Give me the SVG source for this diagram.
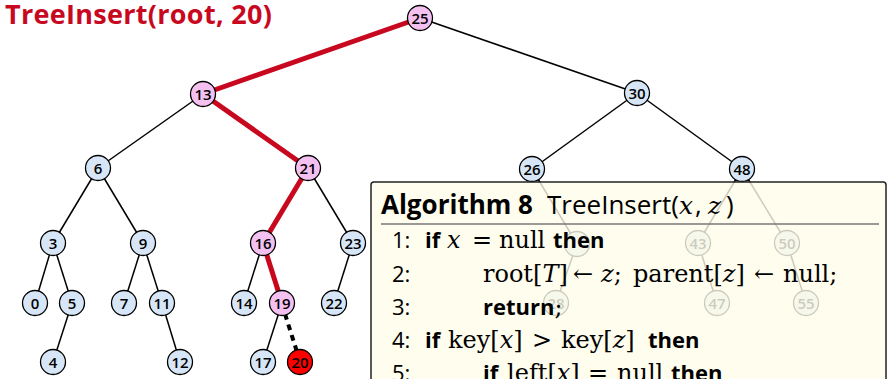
<svg xmlns="http://www.w3.org/2000/svg" width="890" height="379" viewBox="0 0 890 379">
<style>
.e{stroke:#000;stroke-width:1.5;fill:none}
.r{stroke:#c8081f;stroke-width:5;fill:none}
.d{stroke:#000;stroke-width:4;stroke-dasharray:6 5;fill:none}
.n circle{stroke:#000;stroke-width:1.3}
.b circle{fill:#d6e6f6}
.p circle{fill:#f4c0f0}
.x circle{fill:#ff0000}
.n text{font-family:"Open Sans",sans-serif;font-weight:600;font-size:15px;text-anchor:middle;fill:#000}
.t{font-family:"Open Sans",sans-serif;font-weight:700;font-size:27px;letter-spacing:0.3px;fill:#c8081f}
.a{font-family:"Open Sans",sans-serif;font-size:22px;fill:#000}
.h{font-family:"Open Sans",sans-serif;font-size:26px;fill:#000}
.k{font-weight:700}
.s{font-family:"DejaVu Serif",serif;font-size:24px}
.i{font-family:"DejaVu Serif",serif;font-style:italic;font-size:24px}
.hi{font-family:"DejaVu Serif",serif;font-style:italic;font-size:25px}
</style>
<text class="t" x="5" y="24">TreeInsert(root, 20)</text>
<g id="connectors">
<line class="r" x1="420" y1="18" x2="203" y2="94"/>
<line class="e" x1="420" y1="18" x2="637" y2="93"/>
<line class="e" x1="203" y1="94" x2="98" y2="168"/>
<line class="r" x1="203" y1="94" x2="308" y2="168"/>
<line class="e" x1="637" y1="93" x2="532" y2="169"/>
<line class="e" x1="637" y1="93" x2="742" y2="169"/>
<line class="e" x1="98" y1="168" x2="53" y2="243"/>
<line class="e" x1="98" y1="168" x2="143" y2="243"/>
<line class="r" x1="308" y1="168" x2="263" y2="243"/>
<line class="e" x1="308" y1="168" x2="353" y2="243"/>
<line class="e" x1="532" y1="169" x2="577" y2="244"/>
<line class="e" x1="742" y1="169" x2="698" y2="243"/>
<line class="e" x1="742" y1="169" x2="787" y2="243"/>
<line class="e" x1="53" y1="243" x2="35" y2="303"/>
<line class="e" x1="53" y1="243" x2="72" y2="303"/>
<line class="e" x1="143" y1="243" x2="124" y2="303"/>
<line class="e" x1="143" y1="243" x2="162" y2="303"/>
<line class="e" x1="263" y1="243" x2="244" y2="303"/>
<line class="r" x1="263" y1="243" x2="282" y2="303"/>
<line class="e" x1="353" y1="243" x2="334" y2="303"/>
<line class="e" x1="577" y1="244" x2="556" y2="303"/>
<line class="e" x1="698" y1="243" x2="717" y2="303"/>
<line class="e" x1="787" y1="243" x2="806" y2="303"/>
<line class="e" x1="72" y1="303" x2="53" y2="362"/>
<line class="e" x1="162" y1="303" x2="180" y2="362"/>
<line class="e" x1="282" y1="303" x2="263" y2="362"/>
<line class="d" x1="285" y1="314" x2="297" y2="352"/>
</g>
<g id="n25" class="n p"><circle cx="420" cy="18" r="12.5"/><text x="420" y="23.5">25</text></g>
<g id="n13" class="n p"><circle cx="203" cy="94" r="12.5"/><text x="203" y="99.5">13</text></g>
<g id="n30" class="n b"><circle cx="637" cy="93" r="12.5"/><text x="637" y="98.5">30</text></g>
<g id="n6" class="n b"><circle cx="98" cy="168" r="12.5"/><text x="98" y="173.5">6</text></g>
<g id="n21" class="n p"><circle cx="308" cy="168" r="12.5"/><text x="308" y="173.5">21</text></g>
<g id="n26" class="n b"><circle cx="532" cy="169" r="12.5"/><text x="532" y="174.5">26</text></g>
<g id="n48" class="n b"><circle cx="742" cy="169" r="12.5"/><text x="742" y="174.5">48</text></g>
<g id="n3" class="n b"><circle cx="53" cy="243" r="12.5"/><text x="53" y="248.5">3</text></g>
<g id="n9" class="n b"><circle cx="143" cy="243" r="12.5"/><text x="143" y="248.5">9</text></g>
<g id="n16" class="n p"><circle cx="263" cy="243" r="12.5"/><text x="263" y="248.5">16</text></g>
<g id="n23" class="n b"><circle cx="353" cy="243" r="12.5"/><text x="353" y="248.5">23</text></g>
<g id="n29" class="n b"><circle cx="577" cy="244" r="12.5"/></g>
<g id="n43" class="n b"><circle cx="698" cy="243" r="12.5"/><text x="698" y="248.5">43</text></g>
<g id="n50" class="n b"><circle cx="787" cy="243" r="12.5"/><text x="787" y="248.5">50</text></g>
<g id="n0" class="n b"><circle cx="35" cy="303" r="12.5"/><text x="35" y="308.5">0</text></g>
<g id="n5" class="n b"><circle cx="72" cy="303" r="12.5"/><text x="72" y="308.5">5</text></g>
<g id="n7" class="n b"><circle cx="124" cy="303" r="12.5"/><text x="124" y="308.5">7</text></g>
<g id="n11" class="n b"><circle cx="162" cy="303" r="12.5"/><text x="162" y="308.5">11</text></g>
<g id="n14" class="n b"><circle cx="244" cy="303" r="12.5"/><text x="244" y="308.5">14</text></g>
<g id="n19" class="n p"><circle cx="282" cy="303" r="12.5"/><text x="282" y="308.5">19</text></g>
<g id="n22" class="n b"><circle cx="334" cy="303" r="12.5"/><text x="334" y="308.5">22</text></g>
<g id="n28" class="n b"><circle cx="556" cy="303" r="12.5"/><text x="556" y="308.5">28</text></g>
<g id="n47" class="n b"><circle cx="717" cy="303" r="12.5"/><text x="717" y="308.5">47</text></g>
<g id="n55" class="n b"><circle cx="806" cy="303" r="12.5"/><text x="806" y="308.5">55</text></g>
<g id="n4" class="n b"><circle cx="53" cy="362" r="12.5"/><text x="53" y="367.5">4</text></g>
<g id="n12" class="n b"><circle cx="180" cy="362" r="12.5"/><text x="180" y="367.5">12</text></g>
<g id="n17" class="n b"><circle cx="263" cy="362" r="12.5"/><text x="263" y="367.5">17</text></g>
<g id="n20" class="n x"><circle cx="300" cy="362" r="12.5"/><text x="300" y="367.5">20</text></g>
<g id="algorithm">
<rect x="371" y="182" width="515" height="230" rx="3" fill="#fffdea" fill-opacity="0.8" stroke="#222" stroke-width="1.5"/>
<line x1="381" y1="224" x2="879" y2="224" stroke="#777" stroke-width="1.3"/>
<text class="h" x="381" y="214"><tspan class="k">Algorithm 8</tspan><tspan x="547">TreeInsert(</tspan><tspan class="hi" x="679">x</tspan><tspan x="695">,</tspan><tspan class="hi" x="708">z</tspan><tspan x="726">)</tspan></text>
<text class="a" x="392" y="248">1:</text>
<text class="a" y="248"><tspan class="k" x="425">if</tspan><tspan class="i" x="447">x</tspan><tspan class="s" x="472">=</tspan><tspan class="s" x="499">null</tspan><tspan class="k" x="553">then</tspan></text>
<text class="a" x="392" y="281.5">2:</text>
<text class="a" y="281.5"><tspan class="s" x="483">root[</tspan><tspan class="i">T</tspan><tspan class="s">]</tspan><tspan class="s" x="573">←</tspan><tspan class="i" x="601">z</tspan><tspan class="s">;</tspan><tspan class="s" x="633">parent[</tspan><tspan class="i">z</tspan><tspan class="s">]</tspan><tspan class="s" x="754">←</tspan><tspan class="s" x="783">null;</tspan></text>
<text class="a" x="392" y="315">3:</text>
<text class="a" y="315"><tspan class="k" x="483">return</tspan><tspan class="s">;</tspan></text>
<text class="a" x="392" y="348">4:</text>
<text class="a" y="348"><tspan class="k" x="425">if</tspan><tspan class="s" x="448">key[</tspan><tspan class="i">x</tspan><tspan class="s">]</tspan><tspan class="s" x="532">&gt;</tspan><tspan class="s" x="561">key[</tspan><tspan class="i">z</tspan><tspan class="s">]</tspan><tspan class="k" x="648">then</tspan></text>
<text class="a" x="392" y="381">5:</text>
<text class="a" y="381"><tspan class="k" x="483">if</tspan><tspan class="s" x="507">left[</tspan><tspan class="i">x</tspan><tspan class="s">]</tspan><tspan class="s" x="588">=</tspan><tspan class="s" x="617">null</tspan><tspan class="k" x="671">then</tspan></text>
</g>
</svg>
